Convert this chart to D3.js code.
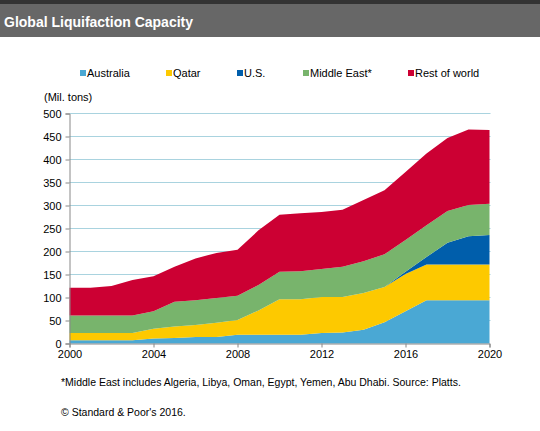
<!DOCTYPE html>
<html><head><meta charset="utf-8">
<script src="https://cdn.jsdelivr.net/npm/d3@7"></script>
<style>
html,body{margin:0;padding:0;background:#fff;}
svg{display:block;font-family:"Liberation Sans",Arial,sans-serif;}
</style></head>
<body>
<script>
const years = [2000,2001,2002,2003,2004,2005,2006,2007,2008,2009,2010,2011,2012,2013,2014,2015,2016,2017,2018,2019,2020];
const australia = [7,7,7,7,11,12,14,14,19,19,19,19,23,24,30,46,70,94,94,94,94];
const qatar     = [16,16,16,16,21,25,26,31,32,53,77,77,78,77,80,77,81,78,78,78,78];
const us        = [0,0,0,0,0,0,0,0,0,0,0,0,0,0,0,0,5,16,47,61,64];
const middleEast= [38,38,38,38,38,54,54,54,53,55,60,61,61,66,69,71,69,69,69,68,68];
const restOfWorld=[60,60,64,77,76,76,91,98,100,119,124,126,124,124,133,139,148,156,159,164,160];
const seriesNames = ["Australia","Qatar","U.S.","Middle East*","Rest of world"];
const seriesColors = ["#4aa8d4","#fdc900","#005eab","#78b46c","#cc0033"];
const yTicks = [0,50,100,150,200,250,300,350,400,450,500];
const xTicks = [2000,2004,2008,2012,2016,2020];

const W=540,H=431;
const svg=d3.select("body").append("svg").attr("width",W).attr("height",H);

// header
svg.append("rect").attr("x",0).attr("y",0).attr("width",W).attr("height",5).attr("fill","#333");
svg.append("rect").attr("x",0).attr("y",4).attr("width",W).attr("height",33).attr("fill","#676767");
svg.append("text").attr("x",4).attr("y",27).attr("fill","#fff").attr("font-size",14).attr("font-weight","bold").text("Global Liquifaction Capacity");

const x=d3.scaleLinear().domain([2000,2020]).range([69.5,489.5]);
const y=d3.scaleLinear().domain([0,500]).range([343.5,113.5]);

// grid
svg.append("g").selectAll("line").data(yTicks.filter(d=>d>0)).join("line")
 .attr("x1",x(2000)).attr("x2",x(2020)+1).attr("y1",d=>y(d)).attr("y2",d=>y(d))
 .attr("stroke","#a9d3df").attr("stroke-width",1);

const table = years.map((yr,i)=>({year:yr,"Australia":australia[i],"Qatar":qatar[i],"U.S.":us[i],"Middle East*":middleEast[i],"Rest of world":restOfWorld[i]}));
const stack=d3.stack().keys(seriesNames)(table);
const area=d3.area().x(d=>x(d.data.year)).y0(d=>y(d[0])).y1(d=>y(d[1]));
svg.append("g").selectAll("path").data(stack).join("path")
 .attr("d",area).attr("fill",(d,i)=>seriesColors[i]);

// y axis
const ya=svg.append("g").attr("transform",`translate(${x(2000)},0)`)
 .call(d3.axisLeft(y).tickValues(yTicks).tickSize(4).tickPadding(4));
ya.select(".domain").attr("stroke","#888");
ya.selectAll(".tick line").attr("stroke","#888");
ya.selectAll("text").attr("font-size",11).attr("fill","#000").attr("font-family","Liberation Sans, Arial, sans-serif");

// x axis
const xa=svg.append("g").attr("transform",`translate(0,${y(0)})`)
 .call(d3.axisBottom(x).tickValues(xTicks).tickFormat(d3.format("d")).tickSize(4).tickPadding(3));
xa.select(".domain").attr("stroke","#888");
xa.selectAll(".tick line").attr("stroke","#888");
xa.selectAll("text").attr("font-size",11).attr("fill","#000").attr("font-family","Liberation Sans, Arial, sans-serif");

svg.append("text").attr("x",44).attr("y",101).attr("font-size",11).attr("fill","#000").text("(Mil. tons)");

// legend
const legX=[80,166,237,303,408];
const lg=svg.append("g").selectAll("g").data(seriesNames).join("g")
 .attr("transform",(d,i)=>`translate(${legX[i]},0)`);
lg.append("rect").attr("x",0).attr("y",70).attr("width",6).attr("height",6).attr("fill",(d,i)=>seriesColors[i]);
lg.append("text").attr("x",7).attr("y",77).attr("font-size",11).attr("fill","#000").text(d=>d);

svg.append("text").attr("x",61).attr("y",386).attr("font-size",10.5).attr("fill","#000")
 .text("*Middle  East includes Algeria, Libya, Oman,  Egypt, Yemen, Abu Dhabi.  Source: Platts.");
svg.append("text").attr("x",61).attr("y",416).attr("font-size",10.5).attr("fill","#000")
 .text("© Standard & Poor's 2016.");
</script>
</body></html>
